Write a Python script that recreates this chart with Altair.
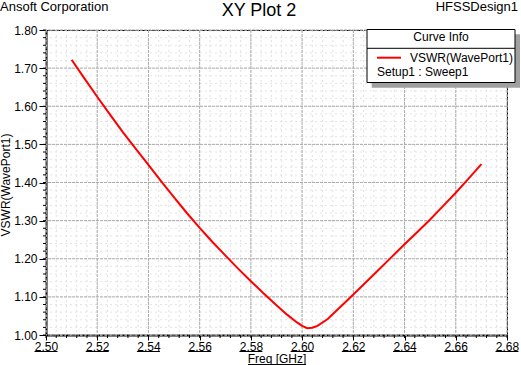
import altair as alt
import pandas as pd

# ---- data ----
FREQ = [2.510, 2.515, 2.520, 2.525, 2.530, 2.535, 2.540, 2.545, 2.550, 2.555,
        2.560, 2.565, 2.570, 2.575, 2.580, 2.585, 2.590, 2.594, 2.598, 2.600,
        2.602, 2.604, 2.606, 2.610, 2.615, 2.620, 2.625, 2.630, 2.635, 2.640,
        2.645, 2.650, 2.655, 2.660, 2.665, 2.670]
VSWR = [1.722, 1.673, 1.625, 1.578, 1.532, 1.489, 1.446, 1.403, 1.361, 1.320,
        1.281, 1.244, 1.209, 1.174, 1.141, 1.109, 1.078, 1.054, 1.033, 1.024,
        1.018, 1.019, 1.024, 1.042, 1.074, 1.106, 1.139, 1.172, 1.205, 1.238,
        1.270, 1.303, 1.338, 1.373, 1.410, 1.448]

X_TICKS = [2.50, 2.52, 2.54, 2.56, 2.58, 2.60, 2.62, 2.64, 2.66, 2.68]
Y_TICKS = [1.00, 1.10, 1.20, 1.30, 1.40, 1.50, 1.60, 1.70, 1.80]
X_MINOR = [round(2.50 + 0.004 * i, 3) for i in range(46)]
Y_MINOR = [round(1.00 + 0.02 * i, 2) for i in range(41)]

TITLE = "XY Plot 2"
LEFT_NOTE = "Ansoft Corporation"
RIGHT_NOTE = "HFSSDesign1"
X_TITLE = "Freq [GHz]"
Y_TITLE = "VSWR(WavePort1)"
LEG_HEAD = "Curve Info"
LEG_SERIES = "VSWR(WavePort1)"
LEG_SETUP = "Setup1 : Sweep1"

FONT = "Liberation Sans"
W, H = 461, 305

xs = alt.Scale(domain=[2.50, 2.68], nice=False, zero=False)
ys = alt.Scale(domain=[1.00, 1.80], nice=False, zero=False)

xaxis = alt.Axis(values=X_TICKS, format=".2f", title=None, grid=False, tickSize=5,
                 tickColor="black", domainColor="black", domainWidth=2,
                 labelFont=FONT, labelFontSize=12, labelColor="black",
                 labelBaseline="alphabetic", labelPadding=10, labelFlush=False,
                 labelOverlap=False)
yaxis = alt.Axis(values=Y_TICKS, format=".2f", title=None, grid=False, tickSize=7,
                 tickColor="black", domainColor="black", domainWidth=2,
                 labelFont=FONT, labelFontSize=12, labelColor="black",
                 labelPadding=2, labelOverlap=False)


def X(field):
    return alt.X(field, scale=xs, axis=xaxis)


def Y(field):
    return alt.Y(field, scale=ys, axis=yaxis)


df = pd.DataFrame({"f": FREQ, "v": VSWR})
dxm = pd.DataFrame({"x": X_MINOR})
dym = pd.DataFrame({"y": Y_MINOR})
dxM = pd.DataFrame({"x": X_TICKS})
dyM = pd.DataFrame({"y": Y_TICKS})

minor_v = alt.Chart(dxm).mark_rule(color="#e6dbe6", strokeDash=[2, 3], strokeWidth=1).encode(
    x=X("x:Q"))
minor_h = alt.Chart(dym).mark_rule(color="#dfe8dc", strokeDash=[2, 3], strokeWidth=1).encode(
    y=Y("y:Q"))
major_v = alt.Chart(dxM).mark_rule(color="#ababab", strokeDash=[3, 1], strokeWidth=1).encode(
    x=X("x:Q"))
major_h = alt.Chart(dyM).mark_rule(color="#ababab", strokeDash=[3, 1], strokeWidth=1).encode(
    y=Y("y:Q"))

minor_tick_y = alt.Chart(dym).mark_rule(color="black").encode(
    y=Y("y:Q"), x=alt.value(-3), x2=alt.value(0))
minor_tick_x = alt.Chart(dxm).mark_rule(color="black").encode(
    x=X("x:Q"), y=alt.value(H), y2=alt.value(H + 3))

line = alt.Chart(df).mark_line(color="#ff0000", strokeWidth=2).encode(
    x=X("f:Q"), y=Y("v:Q"))

underline = alt.Chart(dxM).mark_rule(color="black", xOffset=-11.5, x2Offset=11.5).encode(
    x=X("x:Q"), x2="x:Q", y=alt.value(H + 16.5))


def txt(s, x, y, size=12, align="left", baseline="alphabetic", angle=0, color="black"):
    return alt.Chart(pd.DataFrame({"t": [s]})).mark_text(
        text=s, font=FONT, fontSize=size, align=align, baseline=baseline,
        angle=angle, color=color).encode(x=alt.value(x), y=alt.value(y))


def box(x1, x2, y1, y2, fill, stroke=None):
    kw = {"fill": fill}
    if stroke:
        kw.update(stroke=stroke, strokeWidth=1)
    return alt.Chart(pd.DataFrame({"t": [0]})).mark_rect(**kw).encode(
        x=alt.value(x1), x2=alt.value(x2), y=alt.value(y1), y2=alt.value(y2))


def hline(x1, x2, y, color="black", width=1):
    return alt.Chart(pd.DataFrame({"t": [0]})).mark_rule(color=color, strokeWidth=width).encode(
        x=alt.value(x1), x2=alt.value(x2), y=alt.value(y))


layers = [
    minor_v, minor_h, major_v, major_h, minor_tick_y, minor_tick_x, line, underline,
    txt(TITLE, 213, -14, size=18, align="center"),
    txt(LEFT_NOTE, -46, -19, size=13),
    txt(RIGHT_NOTE, 472, -19, size=13, align="right"),
    txt(X_TITLE, 231, H + 28, align="center"),
    hline(202, 260, H + 29.5),
    txt(Y_TITLE, -45, 155, align="center", baseline="top", angle=270),
    # legend box
    box(325.7, 474, 4.3, 57.7, "#a0a0a0"),
    box(321, 469, -0.5, 52.5, "white", "black"),
    hline(321, 469, 18.3),
    txt(LEG_HEAD, 395, 11, align="center"),
    hline(331, 355, 27.7, color="#ff0000", width=2),
    txt(LEG_SERIES, 364, 32),
    txt(LEG_SETUP, 331, 45.5),
]

chart = alt.layer(*layers).properties(
    width=W, height=H,
    autosize=alt.AutoSizeParams(type="none"),
    padding={"left": 46, "top": 30, "right": 14, "bottom": 30},
    background="white",
).configure_view(stroke="black", strokeWidth=1)

chart.save("out.html", embed_options={"renderer": "svg", "actions": False})
